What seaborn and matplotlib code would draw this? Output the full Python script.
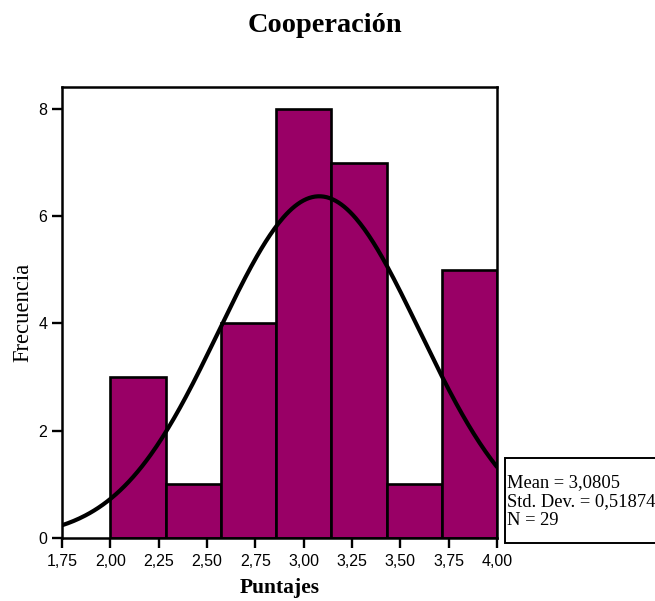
import numpy as np
import pandas as pd
import matplotlib
matplotlib.use("Agg")
import matplotlib.pyplot as plt
import seaborn as sns
from matplotlib.patches import Rectangle

# Data
bin_edges = [2.0, 2.2857, 2.5714, 2.8571, 3.1429, 3.4286, 3.7143, 4.0]
counts = [3, 1, 4, 8, 7, 1, 5]
mean_val = 3.0805
sd_val = 0.51874
n_val = 29
x_ticks = [1.75, 2.00, 2.25, 2.50, 2.75, 3.00, 3.25, 3.50, 3.75, 4.00]
x_tick_labels = ["1,75", "2,00", "2,25", "2,50", "2,75", "3,00", "3,25", "3,50", "3,75", "4,00"]
y_ticks = [0, 2, 4, 6, 8]
stats_lines = ["Mean = 3,0805", "Std. Dev. = 0,51874", "N = 29"]

sns.set_style("ticks")
plt.rcParams['font.family'] = ['Liberation Sans', 'DejaVu Sans']
plt.rcParams['text.color'] = 'black'
plt.rcParams['axes.labelcolor'] = 'black'

fig = plt.figure(figsize=(6.55, 6.01), dpi=100)
ax = fig.add_axes([62/655, 1-538/601, (497-62)/655, (538-87)/601])

centers = [(bin_edges[i] + bin_edges[i+1]) / 2 for i in range(len(counts))]
df = pd.DataFrame({"x": centers, "w": counts})
sns.histplot(data=df, x="x", weights="w", bins=bin_edges, ax=ax,
             color="#990066", alpha=1, edgecolor="black", linewidth=1.9)

# Normal curve scaled to histogram
bw = (bin_edges[-1] - bin_edges[0]) / len(counts)
xs = np.linspace(1.75, 4.0, 300)
ys = n_val * bw * np.exp(-0.5 * ((xs - mean_val) / sd_val) ** 2) / (sd_val * np.sqrt(2 * np.pi))
sns.lineplot(x=xs, y=ys, ax=ax, color="black", linewidth=3.0)

ax.set_xlim(1.75, 4.0)
ax.set_ylim(0, 8.41)
ax.set_xticks(x_ticks)
ax.set_xticklabels(x_tick_labels, fontsize=11.5)
ax.set_yticks(y_ticks)
ax.set_yticklabels([str(v) for v in y_ticks], fontsize=11.5)
ax.tick_params(direction="out", length=7.5, width=1.7, colors="black")
ax.tick_params(axis="x", pad=4)
ax.tick_params(axis="y", pad=3)
for s in ax.spines.values():
    s.set_visible(True)
    s.set_linewidth(1.8)
    s.set_color("black")

ax.set_xlabel("Puntajes", fontsize=15.5, fontweight="bold", family=["Liberation Serif"], color="black")
ax.xaxis.set_label_coords(0.5, -(578 - 538) / 451)
ax.set_ylabel("Frecuencia", fontsize=16.3, family=["Liberation Serif"], color="black")
ax.yaxis.set_label_coords(-(62 - 33) / 435, (538 - 312) / 451)

fig.text(325/655, 1-32/601, "Cooperación", ha="center", va="baseline",
         fontsize=20.4, fontweight="bold", family=["Liberation Serif"], color="black")

# Stats box
rect = Rectangle((505/655, 1-543/601), 170/655, 85/601, transform=fig.transFigure,
                 facecolor="white", edgecolor="black", linewidth=1.4, clip_on=False)
fig.patches.append(rect)
for i, line in enumerate(stats_lines):
    fig.text(507/655, 1-(487 + i*19)/601, line, ha="left", va="baseline",
             fontsize=13.3, family=["Liberation Serif"], color="black")

fig.savefig("out.png", dpi=100)
